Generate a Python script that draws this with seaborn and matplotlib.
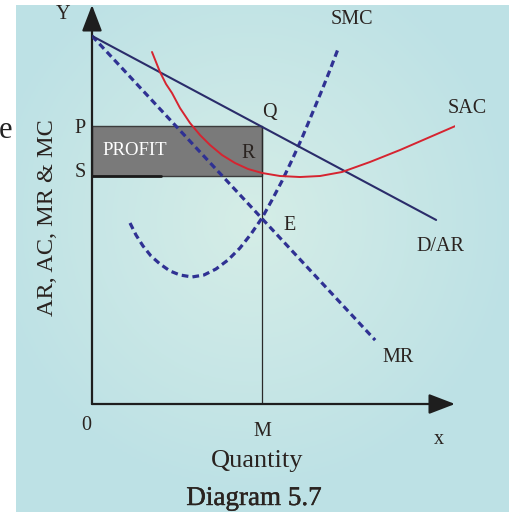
import numpy as np
import matplotlib
matplotlib.use("Agg")
import matplotlib.pyplot as plt
import matplotlib.patheffects as pe
from matplotlib.patches import Rectangle
import pandas as pd
import seaborn as sns

# values (quantity, price units)
price_P = 7.66
price_S = 6.28
qty_M = 4.68

# demand / average revenue and marginal revenue (straight lines)
ar_q = [0.0, 9.48]
ar_p = [10.14, 5.07]
mr_q = [0.0, 7.80]
mr_p = [10.14, 1.76]

# short run marginal cost (dashed U)
smc_q = [1.047, 1.212, 1.405, 1.625, 1.873, 2.149, 2.424, 2.755, 3.085, 3.416, 3.747,
         4.077, 4.380, 4.683, 4.959, 5.234, 5.510, 5.785, 6.061, 6.336, 6.556, 6.777]
smc_p = [4.986, 4.656, 4.353, 4.077, 3.857, 3.664, 3.554, 3.499, 3.554, 3.719, 3.967,
         4.298, 4.683, 5.124, 5.620, 6.143, 6.722, 7.328, 7.989, 8.650, 9.201, 9.780]

# short run average cost (red U)
sac_q = [1.653, 1.763, 1.873, 2.039, 2.204, 2.424, 2.700, 2.975, 3.251, 3.581, 3.939,
         4.298, 4.683, 5.179, 5.730, 6.281, 6.887, 7.658, 8.485, 9.311, 10.138]
sac_p = [9.697, 9.421, 9.146, 8.815, 8.567, 8.154, 7.741, 7.410, 7.135, 6.860, 6.639,
         6.474, 6.364, 6.281, 6.253, 6.281, 6.391, 6.667, 6.997, 7.355, 7.713]

sns.set_style("white")
plt.rcParams["font.family"] = ["Liberation Serif", "DejaVu Serif"]

W, H = 510, 512
fig = plt.figure(figsize=(W / 100, H / 100), dpi=100)
fig.patch.set_facecolor("white")

# light cyan gradient panel behind the diagram
bg = fig.add_axes([0, 0, 1, 1])
bg.set_xlim(0, W)
bg.set_ylim(H, 0)
bg.axis("off")
gx, gy = np.meshgrid(np.linspace(-1, 1, 200), np.linspace(-1, 1, 200))
r = np.clip(np.sqrt((gx + 0.05) ** 2 + (gy + 0.15) ** 2) / 1.05, 0, 1)
c_in = np.array([0.835, 0.93, 0.905])
c_out = np.array([0.745, 0.885, 0.90])
img = c_in[None, None, :] * (1 - r[..., None]) + c_out[None, None, :] * r[..., None]
bg.imshow(img, extent=[16, W, H, 5], aspect="auto", zorder=0)
bg.text(6, 130, "e", fontsize=22, color="#222222", ha="center", va="center")

# main diagram axes: origin at pixel (92, 404)
scale = 36.3
ax = fig.add_axes([92 / W, (H - 404) / H, 363 / W, 399 / H])
ax.patch.set_alpha(0)
ax.set_xlim(0, 363 / scale)
ax.set_ylim(0, 399 / scale)
for s in ax.spines.values():
    s.set_visible(False)
ax.set_xticks([])
ax.set_yticks([])

axis_col = "#1e1e1e"
for tip in [(363 / scale, 0), (0, 399 / scale)]:
    ax.annotate("", xy=tip, xytext=(0, 0), annotation_clip=False,
                arrowprops=dict(arrowstyle="-|>,head_length=0.73,head_width=0.28", lw=1.6,
                                color=axis_col, mutation_scale=22, shrinkA=0, shrinkB=0))

# profit box
ax.add_patch(Rectangle((0, price_S), qty_M, price_P - price_S, facecolor="#7a7a7a",
                       edgecolor="#3c3c3c", lw=1.0, zorder=1))
ax.plot([0, 1.9], [price_S, price_S], color="#1a1a1a", lw=2.0, zorder=1.5)
ax.plot([qty_M, qty_M], [0, price_P], color="#2a2a2a", lw=0.9, zorder=1.5)

blue = "#2f3193"
navy = "#2a2c6a"
red = "#d62430"
dash = (0, (2.1, 1.3))

sns.lineplot(data=pd.DataFrame({"q": mr_q, "p": mr_p}), x="q", y="p", ax=ax, sort=False,
             color=blue, lw=2.3, linestyle=dash, zorder=3)
sns.lineplot(data=pd.DataFrame({"q": smc_q, "p": smc_p}), x="q", y="p", ax=ax, sort=False,
             color=blue, lw=2.3, linestyle=dash, zorder=3)
sns.lineplot(data=pd.DataFrame({"q": ar_q, "p": ar_p}), x="q", y="p", ax=ax, sort=False,
             color=navy, lw=1.5, zorder=4)
sns.lineplot(data=pd.DataFrame({"q": sac_q, "p": sac_p}), x="q", y="p", ax=ax, sort=False,
             color=red, lw=1.4, zorder=4)
ax.set_xlabel("")
ax.set_ylabel("")

tc = "#2a2320"
fs = 14.5


def lab(x, y, s, **kw):
    ax.text(x, y, s, color=tc, fontsize=kw.pop("fontsize", fs), ha="center", va="center",
            clip_on=False, zorder=5, **kw)


lab(1.18, 6.97, "PROFIT", fontsize=13.5)
ax.texts[-1].set_color("white")
lab(4.30, 6.91, "R")
lab(4.90, 8.02, "Q")
lab(5.45, 4.93, "E")
lab(-0.33, 7.60, "P")
lab(-0.33, 6.39, "S")
lab(-0.17, -0.58, "0")
lab(4.68, -0.77, "M")
lab(9.56, -0.99, "x")
lab(-0.80, 10.72, "Y")
lab(7.17, 10.58, "SMC")
lab(10.33, 8.15, "SAC")
lab(9.59, 4.33, "D/AR")
lab(8.43, 1.27, "MR")

fig.text(48 / W, 1 - 218 / H, "AR, AC, MR & MC", rotation=90, fontsize=17.5, color=tc,
         ha="center", va="center")
fig.text(257 / W, 1 - 467 / H, "Quantity", fontsize=19, color=tc, ha="center", va="baseline")
fig.text(254 / W, 1 - 505 / H, "Diagram 5.7", fontsize=19.5, color=tc, ha="center",
         va="baseline", path_effects=[pe.withStroke(linewidth=0.3, foreground=tc)])

fig.savefig("out.png", dpi=100, facecolor="white")
